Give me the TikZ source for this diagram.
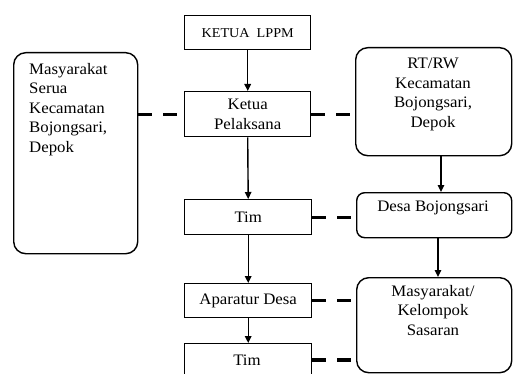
\documentclass[tikz,border=0pt]{standalone}
\usepackage{fontspec}
\setmainfont{Liberation Serif}[FakeStretch=1.05]
\usetikzlibrary{arrows.meta,calc}
\begin{document}
\begin{tikzpicture}[x=1pt,y=-1pt,
 box/.style={draw,line width=1.4pt,inner sep=0pt,anchor=north west},
 rbox/.style={box,rounded corners=12pt},
 txt/.style={font=\fontsize{16}{19.5}\selectfont,align=center,inner sep=0pt},
 arr/.style={line width=1.4pt,-{Triangle[length=7pt,width=6.5pt]}},
 dsh/.style={line width=3.2pt,dash pattern=on 14pt off 11pt}]
\useasboundingbox (0,0) rectangle (513,374);
\clip (0,0) rectangle (513,374);
% main column
\node[box,txt,minimum width=126pt,minimum height=34pt,font=\fontsize{13.5}{16}\selectfont] (ketua) at (184,15) {KETUA\ \ LPPM};
\node[box,txt,minimum width=126pt,minimum height=45pt] (pel) at (184,91) {Ketua\\Pelaksana};
\node[box,txt,minimum width=127pt,minimum height=35pt] (tim1) at (184,199) {Tim};
\node[box,txt,minimum width=127pt,minimum height=34pt] (apa) at (184,283) {Aparatur Desa};
\node[box,minimum width=127pt,minimum height=50pt] (tim2) at (184,343) {};
\node[txt] (tim2t) at (247,360) {Tim};
% left box
\node[rbox,minimum width=124pt,minimum height=201pt] (left) at (13,52) {};
\node[txt,align=left,anchor=north west] (leftt) at (29,63) {Masyarakat\\Serua\\Kecamatan\\Bojongsari,\\Depok};
% right column
\node[rbox,minimum width=156pt,minimum height=108pt] (rt) at (355,47) {};
\node[txt,anchor=north] (rtt) at (433,58) {RT/RW\\Kecamatan\\Bojongsari,\\Depok};
\node[box,rounded corners=8pt,minimum width=155pt,minimum height=45pt] (desa) at (356,192) {};
\node[txt] (desat) at (433,208) {Desa Bojongsari};
\node[rbox,minimum width=155pt,minimum height=95pt] (mas) at (356,277) {};
\node[txt,anchor=north] (mast) at (433,285) {Masyarakat/\\Kelompok\\Sasaran};
% arrows
\coordinate (ax) at (441,0);
\coordinate (bx) at (438,0);
\draw[arr] (ketua.south) -- (pel.north);
\draw[arr] (pel.south) -- (tim1.north);
\draw[arr] (tim1.south) -- (apa.north);
\draw[arr] (apa.south) -- (tim2.north);
\draw[arr] (rt.south -| ax) -- (desa.north -| ax);
\draw[arr] (desa.south -| bx) -- (mas.north -| bx);
% dashed connectors
\draw[dsh] (pel.west -| left.east) -- (pel.west);
\draw[dsh] (pel.east) -- (pel.east -| rt.west);
\draw[dsh] (tim1.east) -- (tim1.east -| desa.west);
\draw[dsh] (apa.east) -- (apa.east -| mas.west);
\draw[dsh] (tim2t -| tim2.east) -- (tim2t -| mas.west);
\end{tikzpicture}
\end{document}
